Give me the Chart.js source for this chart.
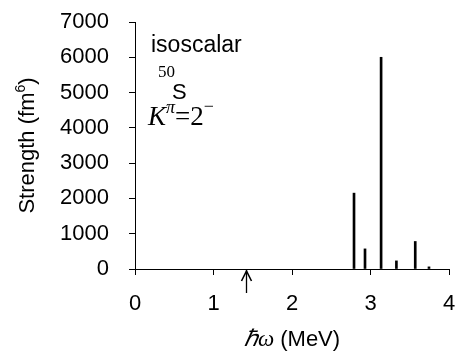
<!DOCTYPE html>
<html>
<head>
<meta charset="utf-8">
<script src="https://cdn.jsdelivr.net/npm/chart.js@4.4.0/dist/chart.umd.min.js"></script>
<style>
  body { margin: 0; background: #fff; }
  #wrap { width: 460px; height: 354px; }
</style>
</head>
<body>
<div id="wrap"><canvas id="myChart"></canvas></div>
<script>
// energies of the states (MeV) and strengths (fm^6)
const energies = [2.79, 2.93, 3.135, 3.33, 3.57, 3.745];
const strengths = [2150, 570, 6000, 230, 780, 60];
const xTicks = [0, 1, 2, 3, 4];
const yTicks = [0, 1000, 2000, 3000, 4000, 5000, 6000, 7000];
const arrowAt = 1.42; // arrow under the axis

const sans = '"Liberation Sans", Arial, sans-serif';
const serif = '"Liberation Serif", "Times New Roman", serif';

// texts, arrow and axis titles
const extras = {
    id: 'extras',
    afterDraw(chart) {
        const ctx = chart.ctx;
        const xs = chart.scales.x, ys = chart.scales.y;
        ctx.save();
        ctx.fillStyle = '#000';
        ctx.strokeStyle = '#000';
        ctx.textBaseline = 'alphabetic';
        ctx.textAlign = 'left';

        ctx.font = '23px ' + sans;
        ctx.fillText('isoscalar', 151, 52);
        ctx.font = '17px ' + serif;
        ctx.fillText('50', 158, 77);
        ctx.font = '22px ' + sans;
        ctx.fillText('S', 172, 99);

        // K^pi = 2^-
        let x = 148;
        ctx.font = 'italic 27px ' + serif;
        ctx.fillText('K', x, 125);
        x += ctx.measureText('K').width;
        ctx.font = 'italic 18px ' + serif;
        ctx.fillText('π', x, 113);
        x += ctx.measureText('π').width;
        ctx.font = '27px ' + serif;
        ctx.fillText('=2', x, 125);
        x += ctx.measureText('=2').width;
        ctx.font = '18px ' + serif;
        ctx.fillText('−', x, 112);

        // arrow
        const ax = Math.round(xs.getPixelForValue(arrowAt)) + 0.5;
        const ay = ys.getPixelForValue(0) + 1;
        ctx.lineWidth = 1.3;
        ctx.beginPath();
        ctx.moveTo(ax, ay + 23);
        ctx.lineTo(ax, ay);
        ctx.stroke();
        ctx.lineWidth = 1.6;
        ctx.beginPath();
        ctx.moveTo(ax - 5, ay + 11);
        ctx.lineTo(ax, ay + 1);
        ctx.lineTo(ax + 5, ay + 11);
        ctx.stroke();

        // x title: hbar omega (MeV)
        const part1 = 'ℏω';
        ctx.font = '22px ' + sans;
        const w2 = ctx.measureText(' (MeV)').width;
        ctx.font = 'italic 23px ' + serif;
        const w1 = ctx.measureText(part1).width;
        let tx = (xs.left + xs.right) / 2 - (w1 + w2) / 2;
        ctx.fillText(part1, tx, 346);
        ctx.font = '22px ' + sans;
        ctx.fillText(' (MeV)', tx + w1, 346);

        // y title with superscript
        ctx.translate(34, (ys.top + ys.bottom) / 2);
        ctx.rotate(-Math.PI / 2);
        ctx.font = '22px ' + sans;
        const a = 'Strength (fm', s = '6', b = ')';
        const wa = ctx.measureText(a).width, wb = ctx.measureText(b).width;
        ctx.font = '14px ' + sans;
        const ws = ctx.measureText(s).width;
        let ty = -(wa + ws + wb) / 2;
        ctx.font = '22px ' + sans;
        ctx.fillText(a, ty, 0);
        ctx.font = '14px ' + sans;
        ctx.fillText(s, ty + wa, -9);
        ctx.font = '22px ' + sans;
        ctx.fillText(b, ty + wa + ws, 0);
        ctx.restore();
    }
};

const points = energies.map((e, i) => ({ x: e, y: strengths[i] }));

new Chart(document.getElementById('myChart'), {
    type: 'bar',
    data: {
        datasets: [{
            data: points,
            backgroundColor: '#000',
            borderWidth: 0,
            barThickness: 2
        }]
    },
    options: {
        responsive: true,
        maintainAspectRatio: false,
        animation: false,
        layout: { padding: { top: 22, right: 11, left: 0, bottom: 0 } },
        plugins: { legend: { display: false }, tooltip: { enabled: false } },
        scales: {
            x: {
                type: 'linear',
                min: 0, max: 4,
                offset: false,
                afterBuildTicks: s => { s.ticks = xTicks.map(v => ({ value: v })); },
                // label padding otherwise eats into the plot width
                afterFit: s => { s.height = 85; s.paddingLeft = 0; s.paddingRight = 0; },
                grid: { offset: false, drawOnChartArea: false, tickLength: 6, color: '#000' },
                border: { color: '#000', width: 1 },
                ticks: { color: '#000', padding: 16, font: { family: sans, size: 22 }, callback: v => String(v) }
            },
            y: {
                min: 0, max: 7000,
                afterBuildTicks: s => { s.ticks = yTicks.map(v => ({ value: v })); },
                afterFit: s => { s.width = 135; s.paddingTop = 0; s.paddingBottom = 0; },
                grid: { drawOnChartArea: false, tickLength: 6, color: '#000' },
                border: { color: '#000', width: 1 },
                ticks: { color: '#000', padding: 20, font: { family: sans, size: 22 }, callback: v => String(v) }
            }
        }
    },
    plugins: [extras]
});
</script>
</body>
</html>
